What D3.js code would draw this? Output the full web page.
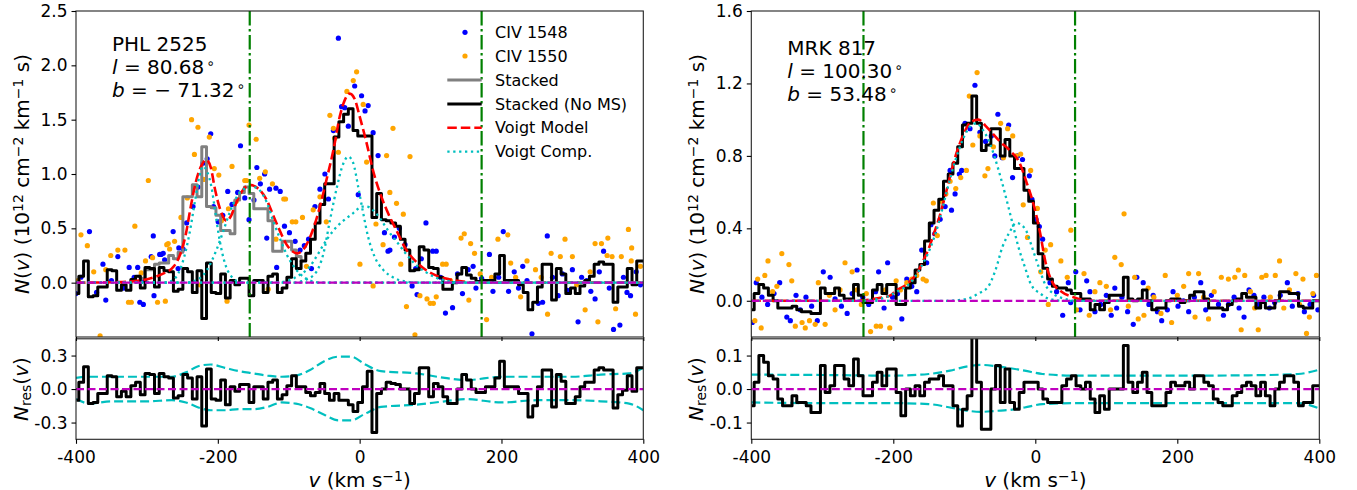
<!DOCTYPE html>
<html><head><meta charset="utf-8">
<script src="https://cdn.jsdelivr.net/npm/d3@7"></script>
<style>body{margin:0;background:#fff} text{font-family:"DejaVu Sans",sans-serif}</style>
</head><body><svg id="c" width="1357" height="490"></svg>
<script>
// ---------- shared grid / ticks ----------
const BIN_CENTER_START = -399.3, BIN_WIDTH = 6.667;
const velocityTicks = [-400, -200, 0, 200, 400];
const leftMainTicks = [0, 0.5, 1.0, 1.5, 2.0, 2.5];
const leftResTicks = [-0.3, 0, 0.3];
const rightMainTicks = [0, 0.4, 0.8, 1.2, 1.6];
const rightResTicks = [-0.1, 0, 0.1];
const legendLabels = ["CIV 1548", "CIV 1550", "Stacked", "Stacked (No MS)", "Voigt Model", "Voigt Comp."];

// ---------- LEFT: PHL 2525 ----------
const leftName = "PHL 2525", leftL = "80.68", leftB = "71.32", leftBNeg = true;
const leftVlines = [-155, 172];
const leftStackedNoMS = [-0.10,0.06,0.20,-0.13,-0.12,-0.04,-0.04,0.12,0.11,-0.07,-0.02,-0.07,0.03,0.06,-0.05,0.14,0.13,-0.04,0.14,0.11,0.10,-0.08,-0.06,0.13,
 0.10,-0.09,0.11,-0.33,0.18,-0.09,-0.10,0.08,-0.14,0.02,-0.02,0.04,0.04,-0.12,0.02,0.02,-0.09,0.06,0.08,-0.09,-0.05,0.05,0.22,0.13,
 0.20,0.27,0.40,0.55,0.72,0.91,0.91,1.34,1.48,1.55,1.60,1.40,1.35,1.35,1.35,0.60,0.82,0.58,0.57,0.55,0.52,0.40,0.30,0.11,0.12,0.33,0.30,0.14,0.13,0.05,-0.06,-0.06,
 0.00,0.08,0.14,0.07,0.04,0.01,0.02,0.02,0.02,0.08,0.25,0.02,0.02,0.02,-0.02,-0.09,-0.25,-0.18,-0.04,0.17,0.17,-0.16,0.13,0.08,-0.10,-0.05,-0.10,-0.03,0.02,0.06,0.17,0.19,0.17,0.17,-0.18,-0.04,-0.04,0.13,-0.02,0.20,0.20];
const leftStackedFirstBin = 13;
const leftStacked = [0.06,0.04,0.12,0.12,0.17,0.18,0.18,0.25,0.22,0.28,0.79,0.79,0.90,0.79,1.25,0.70,0.69,0.62,0.48,0.48,0.45,0.76,0.83,0.88,0.82,0.68,0.68,0.68,0.57,0.29,0.29,0.38,0.38,0.30,0.24,0.20];
const leftResidual = [-0.10,0.06,0.20,-0.13,-0.12,-0.04,-0.04,0.12,0.11,-0.07,-0.02,-0.07,0.03,0.06,-0.05,0.14,0.13,-0.04,0.14,0.11,0.10,-0.08,-0.06,0.13,
 0.10,-0.09,0.11,-0.33,0.18,-0.09,-0.10,0.08,-0.14,0.02,-0.02,0.04,0.04,-0.12,0.02,0.02,-0.09,0.06,0.08,-0.09,-0.05,
 0.03,0.12,0.02,0.02,-0.03,-0.06,-0.03,0.05,-0.04,-0.10,-0.04,-0.10,-0.10,-0.14,-0.20,-0.12,0.02,0.16,-0.39,-0.04,
 0.00,0.06,0.05,0.04,0.00,0.00,-0.13,-0.04,0.19,0.19,-0.07,0.05,0.02,-0.07,-0.13,-0.13,0.00,0.13,0.08,0.00,
 -0.03,-0.03,0.02,0.02,0.10,0.25,0.02,0.02,0.02,-0.04,-0.04,-0.25,-0.15,0.02,0.17,0.17,-0.16,0.13,0.07,-0.13,
 -0.13,-0.07,0.02,0.06,0.06,0.17,0.19,0.17,0.17,-0.17,-0.05,-0.01,0.12,-0.02,0.19,0.19];
const leftCIV1548 = [[-400,-0.10],[-393,0.05],[-381,0.47],[-371,-0.09],[-362,0.17],[-358,-0.16],[-350,0.02],[-341,0.24],[-333,-0.05],[-325,0.14],[-318,0.05],[-313,0.14],[-310,-0.18],[-305,-0.20],[-303,0.02],[-294,0.24],[-291,0.43],[-290,-0.12],[-282,0.26],[-280,0.26],[-277,0.27],[-275,0.21],[-263,0.47],[-256,0.13],[-255,0.32],[-249,0.31],[-244,0.55],[-235,0.70],[-228,0.88],[-221,1.10],[-215,1.14],[-210,1.37],[-206,0.70],[-199.5,0.56],[-193,0.62],[-186,0.84],[-180,0.72],[-172,0.83],[-168,1.26],[-162,0.78],[-156,0.58],[-149,0.76],[-145,1.06],[-140,0.91],[-134,1.00],[-131,0.41],[-127,0.86],[-118,0.87],[-117,0.14],[-112,0.84],[-106,0.52],[-99,0.46],[-91,0.38],[-84,0.30],[-78,0.34],[-72,0.40],[-68,0.13],[-63,0.70],[-56,0.86],[-49,1.00],[-44,0.77],[-37,1.40],[-30,2.25],[-25.5,1.62],[-21,1.61],[-16,1.44],[-7,1.81],[-2,0.81],[2.7,1.72],[7.6,1.58],[12,1.63],[19,1.38],[26,1.17],[35,0.46],[40,0.29],[42.7,0.30],[49,0.42],[56,0.50],[64,0.35],[74,-0.03],[79,0.13],[81,-0.11],[87,0.22],[93.5,0.55],[103,0.29],[108,0.29],[114,0.05],[121,-0.28],[131,-0.23],[138,0.08],[145,-0.10],[153,0.12],[160,0.15],[164,-0.05],[172,0.04],[183,0.26],[188,-0.08],[196,0.05],[202.5,0.47],[210,-0.08],[218,0.10],[224,-0.05],[230,0.15],[236,0.02],[243,-0.47],[252,-0.19],[258,-0.18],[264.6,0.43],[272,0.05],[280,-0.12],[286,0.08],[293,-0.07],[300,0.12],[308,-0.36],[313,0.05],[320,0.02],[326,-0.08],[332,-0.15],[338,0.10],[344,0.29],[352,-0.05],[358,-0.43],[367,-0.39],[372,0.05],[377,-0.09],[382,-0.12],[390,0.10],[396,-0.02]];
const leftCIV1550 = [[-397,0.02],[-393,0.44],[-384,0.34],[-375,0.10],[-366,-0.49],[-358,0.12],[-351,0.25],[-341,0.30],[-331,0.30],[-326,-0.18],[-322,-0.18],[-317,0.52],[-308,0.09],[-302,0.20],[-298,0.94],[-292,0.23],[-285,-0.18],[-274,-0.17],[-272,0.35],[-270,0.36],[-268,0.31],[-261,0.38],[-252,0.60],[-243,0.78],[-237,1.50],[-233,1.18],[-228,1.43],[-225,-0.02],[-220,0.95],[-212,1.34],[-205,1.05],[-198.6,0.99],[-195,0.57],[-187,-0.17],[-185,0.68],[-180,1.07],[-174,0.75],[-162,0.94],[-159.5,0.94],[-156,1.45],[-146,1.32],[-141,0.96],[-133,1.02],[-129,-0.06],[-123,0.91],[-118,0.40],[-107,0.77],[-104.5,0.77],[-95,0.56],[-90,0.56],[-80.6,0.60],[-75,0.15],[-65.5,0.67],[-56,0.79],[-47,0.56],[-42,1.54],[-37,1.42],[-35,1.33],[-30,1.20],[-18,1.76],[-9,1.86],[-4.3,1.94],[0.4,0.17],[5,1.64],[9.8,1.11],[19,-0.03],[23,0.54],[33,0.35],[38,1.17],[42.6,0.83],[47,1.42],[52,0.73],[58,0.17],[61.6,0.63],[66,-0.22],[71,1.16],[78,-0.48],[85,-0.12],[95,-0.15],[99.5,-0.19],[104,-0.19],[108,-0.13],[117,0.17],[122,0.17],[128,0.02],[143,0.41],[147.5,0.45],[154,-0.16],[156.5,0.36],[162,0.27],[170,0.08],[179,-0.34],[186,0.05],[195,0.40],[209,0.44],[213,0.18],[220,0.05],[227,-0.13],[236,0.20],[248,0.12],[256,0.05],[265,-0.29],[270,0.27],[283,0.24],[289.6,0.40],[300,0.24],[306,-0.02],[318,-0.25],[325,0.10],[332,0.36],[336,-0.36],[341,0.36],[349,0.25],[350,0.41],[356,0.24],[361,-0.24],[369,0.24],[379,0.49],[383,0.20],[383.6,0.32],[389,-0.29],[396,0.15]];
const leftModel = [[-400,0],[-340,0.005],[-310,0.02],[-290,0.05],[-275,0.09],[-262,0.15],[-252,0.28],[-245,0.45],[-239,0.67],[-232,0.90],[-223,1.08],[-216,1.13],[-210,1.06],[-204,0.86],[-197,0.68],[-188,0.57],[-181,0.62],[-175,0.72],[-166,0.84],[-155,0.90],[-144,0.87],[-131,0.76],[-122,0.62],[-112,0.47],[-103,0.35],[-95,0.29],[-88,0.27],[-80,0.30],[-68,0.45],[-56,0.70],[-47,0.94],[-37,1.22],[-28,1.53],[-21,1.68],[-14,1.74],[-7,1.69],[0,1.53],[10,1.28],[19,1.03],[29,0.82],[38,0.67],[52,0.48],[66,0.30],[80,0.19],[95,0.11],[110,0.06],[127,0.03],[146,0.01],[170,0],[400,0]];
const leftCompA = [[-400,0],[-275,0],[-262,0.03],[-250,0.18],[-240,0.45],[-232,0.76],[-226,0.98],[-221,1.07],[-215,1.02],[-209,0.88],[-204,0.67],[-199,0.45],[-194,0.28],[-188,0.14],[-180,0.05],[-170,0.01],[-155,0],[400,0]];
const leftCompB = [[-400,0],[-245,0],[-228,0.03],[-215,0.12],[-202,0.30],[-192,0.48],[-183,0.65],[-174,0.78],[-160,0.87],[-150,0.88],[-141,0.85],[-131,0.74],[-122,0.57],[-112,0.40],[-103,0.26],[-95,0.17],[-84,0.08],[-70,0.02],[-55,0],[400,0]];
const leftCompC = [[-400,0],[-95,0],[-75,0.03],[-61,0.10],[-51,0.27],[-42,0.57],[-32,0.88],[-25,1.06],[-16,1.16],[-9,1.10],[-2,0.88],[5,0.64],[12,0.42],[21,0.24],[33,0.12],[47,0.05],[65,0.01],[85,0],[400,0]];
const leftCompD = [[-400,0],[-120,0],[-100,0.02],[-85,0.07],[-70,0.15],[-60,0.25],[-50,0.36],[-37,0.48],[-23,0.57],[-9,0.64],[3,0.70],[10,0.70],[20,0.66],[30,0.58],[40,0.48],[52,0.38],[66,0.26],[80,0.16],[95,0.09],[110,0.04],[130,0.01],[150,0],[400,0]];
const leftErrBand = [[-400,0.10,-0.09],[-380,0.11,-0.13],[-350,0.11,-0.11],[-300,0.11,-0.11],[-265,0.11,-0.10],[-245,0.15,-0.12],[-225,0.21,-0.17],[-210,0.22,-0.19],[-190,0.19,-0.19],[-170,0.16,-0.18],[-150,0.14,-0.18],[-130,0.12,-0.16],[-110,0.11,-0.12],[-90,0.12,-0.13],[-70,0.17,-0.17],[-50,0.25,-0.23],[-30,0.29,-0.28],[-12,0.29,-0.28],[8,0.22,-0.22],[30,0.16,-0.16],[80,0.14,-0.14],[120,0.10,-0.11],[150,0.08,-0.09],[200,0.11,-0.12],[250,0.11,-0.10],[300,0.11,-0.10],[340,0.13,-0.11],[380,0.14,-0.13],[400,0.19,-0.19]];

// ---------- RIGHT: MRK 817 ----------
const rightName = "MRK 817", rightL = "100.30", rightB = "53.48", rightBNeg = false;
const rightVlines = [-242, 56];
const rightStackedNoMS = [-0.05,0.04,0.09,0.07,0.03,0.00,-0.04,-0.04,-0.04,-0.03,-0.05,-0.06,-0.06,-0.07,-0.07,0.07,0.04,0.04,0.07,0.03,0.01,0.01,0.09,0.03,-0.01,-0.01,0.06,0.09,0.04,0.09,0.09,-0.02,-0.02,0.07,0.10,0.17,0.20,
 0.33,0.43,0.50,0.56,0.66,0.70,0.76,0.85,0.97,0.98,1.13,0.98,0.83,0.86,0.95,0.95,0.80,0.89,0.80,0.73,0.73,0.61,0.55,0.43,0.26,0.18,0.12,0.08,0.07,0.07,0.06,0.04,0.04,0.01,0.01,-0.05,-0.02,-0.05,
 -0.01,0.03,0.03,0.03,0.13,0.01,0.00,0.01,0.06,0.00,-0.05,-0.04,-0.04,0.00,0.01,0.01,-0.01,0.00,0.03,0.05,0.05,0.01,-0.04,-0.04,-0.04,-0.05,-0.02,0.00,0.01,0.04,0.02,0.02,-0.04,-0.01,-0.04,-0.04,0.00,0.05,0.05,0.04,0.04,-0.03,-0.04,-0.04,0.00,0.00];
const rightResidual = [-0.05,0.02,0.10,0.08,0.04,0.03,-0.03,-0.05,-0.05,-0.02,-0.04,-0.04,-0.05,-0.07,-0.07,0.07,-0.01,0.01,0.07,0.07,
 0.03,0.01,0.09,0.04,-0.02,-0.02,0.02,0.05,0.01,0.06,0.06,-0.01,-0.08,0.00,-0.02,0.01,-0.02,0.02,0.03,0.03,
 0.04,0.01,0.01,-0.05,-0.11,-0.06,-0.02,0.16,0.02,-0.12,-0.12,0.00,0.07,-0.04,0.06,-0.04,-0.06,-0.01,0.02,0.02,
 0.02,0.00,-0.03,-0.04,-0.04,-0.04,0.01,0.03,0.04,0.01,0.00,0.02,-0.03,-0.07,-0.02,-0.06,0.00,0.00,0.00,0.13,
 0.02,-0.01,0.02,0.05,-0.01,-0.05,-0.05,-0.05,-0.01,0.02,0.01,0.01,0.02,0.00,0.04,0.04,0.02,0.01,-0.03,-0.04,
 -0.05,-0.05,-0.02,-0.01,0.01,0.02,0.01,-0.02,0.02,-0.02,-0.05,0.00,0.02,0.04,0.04,0.02,-0.05,-0.04,-0.04,0.01,0.01];
const rightCIV1548 = [[-398.6,-0.12],[-393,0.10],[-385,0.02],[-377,-0.02],[-368,0.04],[-360,0.10],[-350,-0.09],[-345,-0.11],[-337,0.03],[-331,-0.05],[-323,0.02],[-315,-0.03],[-307,-0.11],[-298.6,0.16],[-289,0.13],[-282,0.01],[-273,-0.03],[-265,-0.07],[-258,0.04],[-251,0.17],[-243,0.02],[-234.6,-0.02],[-225,0.05],[-220.7,0.16],[-213,-0.04],[-208,0.21],[-201,0.02],[-194,0.04],[-188,-0.10],[-181,0.12],[-174,0.08],[-167,0.05],[-160,0.28],[-153,0.21],[-147,0.42],[-141.6,0.37],[-134,0.45],[-127,0.52],[-120,0.72],[-118,0.50],[-113,0.59],[-107,0.70],[-103.7,0.72],[-99,0.98],[-92,0.95],[-85,1.19],[-78,0.93],[-70,0.88],[-62,0.91],[-57,0.80],[-52.7,1.03],[-46.5,0.79],[-37.5,0.97],[-32,0.68],[-25,0.80],[-18,0.78],[-8.4,0.69],[-4.7,0.56],[1,0.45],[5.7,0.41],[10.3,0.34],[20.7,0.10],[30,0.05],[38.6,-0.08],[46.5,0.10],[49.8,-0.01],[57,0.16],[63,-0.05],[72.4,0.11],[77,0.05],[84,-0.06],[92,-0.02],[100,0.03],[107,-0.08],[112,0.07],[114.6,-0.04],[122,0.02],[130,-0.06],[138,-0.13],[143,0.13],[152,0.10],[160,-0.02],[166,0.03],[172,-0.06],[178,-0.11],[186,-0.05],[194,0.05],[201,-0.03],[208.6,0.0],[216,-0.06],[224,0.02],[233,0.10],[240,-0.05],[248,0.03],[258,-0.02],[265,-0.08],[272,-0.02],[280,0.02],[287,-0.04],[294,-0.09],[301,0.06],[308,0.03],[315,-0.02],[322,0.02],[330,-0.04],[337,-0.01],[345,0.03],[355,0.10],[362,-0.03],[370,0.04],[379,-0.06],[387,-0.02],[392,0.03],[398,-0.05]];
const rightCIV1550 = [[-395,-0.11],[-391,0.12],[-386,-0.15],[-381,0.14],[-376.5,0.22],[-370,0.05],[-364,0.08],[-357,0.26],[-347,0.20],[-343,0.11],[-338,-0.14],[-328.5,-0.12],[-324,-0.15],[-318,-0.11],[-310,-0.13],[-305.6,0.10],[-296,-0.13],[-290,0.03],[-282,-0.05],[-275,0.06],[-268,0.21],[-258,0.16],[-251,0.06],[-245,-0.02],[-238,0.04],[-232,-0.17],[-224,-0.14],[-218,-0.14],[-211,0.06],[-205,-0.15],[-196,0.11],[-190,0.06],[-181,0.10],[-174,0.12],[-167,0.14],[-158,0.12],[-153.5,0.11],[-143.6,0.54],[-138,0.36],[-133,0.55],[-126,0.59],[-120,0.66],[-112,0.62],[-105,0.68],[-97,0.72],[-93,1.13],[-88,0.86],[-82,1.26],[-78,0.91],[-71,0.69],[-66.7,0.73],[-59,0.85],[-48.8,0.98],[-45,0.79],[-39,0.95],[-31.8,0.91],[-27,0.80],[-20.6,0.81],[-17,0.53],[-11,0.35],[-6.5,0.72],[2.9,0.51],[7.6,0.16],[14,0.28],[18.3,-0.02],[21.6,0.31],[36,0.22],[45,0.13],[50,0.39],[58,-0.05],[68.6,0.15],[76,-0.08],[84,0.05],[91,0.10],[100,0.08],[106,-0.05],[112,0.24],[121,0.20],[125,0.48],[131,-0.03],[140,0.13],[145,-0.10],[153,-0.08],[159,0.07],[167,0.02],[177,-0.07],[183,0.14],[192,-0.12],[200,0.03],[209,0.08],[216,0.15],[225,-0.09],[230,0.15],[237,0.02],[244,-0.10],[252,0.05],[262,0.13],[272,0.12],[281,0.13],[286,0.17],[290,-0.16],[295,0.14],[303,0.05],[309,-0.04],[314,-0.16],[319,0.13],[325,0.14],[331,0.02],[338,0.14],[344,0.22],[350,-0.04],[358,0.06],[367,0.15],[372,-0.02],[377,0.12],[382,-0.18],[386,-0.09],[391,0.04],[396,0.14]];
const rightModel = [[-400,0],[-260,0.0],[-220,0.015],[-204,0.03],[-195,0.06],[-185,0.08],[-176,0.11],[-167,0.15],[-158,0.22],[-149,0.30],[-142,0.38],[-136,0.45],[-125,0.61],[-113,0.79],[-101,0.92],[-90,0.99],[-80,1.0],[-71,0.97],[-64,0.94],[-50,0.88],[-36,0.83],[-22,0.76],[-12,0.65],[-3,0.54],[7,0.37],[14,0.22],[23,0.11],[37,0.05],[54,0.02],[77,0.0],[400,0]];
const rightCompA = [[-400,0],[-260,0],[-220,0.01],[-195,0.05],[-176,0.10],[-162,0.18],[-148,0.29],[-136,0.43],[-125,0.60],[-113,0.77],[-101,0.90],[-90,0.97],[-82,0.98],[-75,0.95],[-64,0.87],[-57,0.79],[-48,0.67],[-38,0.52],[-31,0.41],[-24,0.30],[-15,0.19],[-6,0.09],[7,0.04],[20,0.01],[40,0],[400,0]];
const rightCompB = [[-400,0],[-125,0],[-97,0.01],[-80,0.04],[-66,0.08],[-56,0.17],[-46,0.30],[-36,0.38],[-27,0.43],[-20,0.42],[-12,0.38],[-5,0.30],[4.5,0.19],[14,0.09],[25,0.04],[42,0.01],[60,0],[400,0]];
const rightErrBand = [[-400,0.043,-0.040],[-300,0.042,-0.042],[-200,0.040,-0.042],[-150,0.045,-0.045],[-120,0.055,-0.055],[-95,0.068,-0.065],[-75,0.072,-0.068],[-55,0.068,-0.065],[-35,0.062,-0.062],[-15,0.055,-0.055],[10,0.045,-0.045],[60,0.040,-0.042],[200,0.040,-0.042],[300,0.041,-0.042],[370,0.045,-0.042],[400,0.058,-0.058]];

// ---------- drawing ----------
const COL = {blue:"#0000ff", orange:"#ffa500", gray:"#808080", black:"#000000", red:"#ff0000", cyan:"#00bfbf", mag:"#bf00bf", green:"#008000"};
const svg = d3.select("#c");
const MAIN_TOP = 11, MAIN_BOT = 337, RES_TOP = 338.8, RES_BOT = 439.3;

function stepPoints(values, first) { return values.map((v, i) => [BIN_CENTER_START + (first + i) * BIN_WIDTH, v]); }

function addMathLabel(g, parts, size) {
  parts.forEach(([t, s]) => {
    const ts = g.append("tspan").text(t);
    if (s === "i") ts.attr("font-style", "italic");
    if (s === "sup") ts.attr("font-size", size * 0.7).attr("baseline-shift", "40%");
    if (s === "deg") ts.attr("font-size", size * 0.7).attr("baseline-shift", "45%").attr("dx", 2);
    if (s === "sub") ts.attr("font-size", size * 0.7).attr("baseline-shift", "-22%");
  });
}

function drawPanel(p, id) {
  const x = d3.scaleLinear().domain([-400, 400]).range([p.x0, p.x1]);
  const y = d3.scaleLinear().domain(p.mainDomain).range([MAIN_BOT, MAIN_TOP]);
  const yr = d3.scaleLinear().domain(p.resDomain).range([RES_BOT, RES_TOP]);
  const defs = svg.append("defs");
  defs.append("clipPath").attr("id", "cm" + id).append("rect").attr("x", p.x0).attr("y", MAIN_TOP).attr("width", p.x1 - p.x0).attr("height", MAIN_BOT - MAIN_TOP);
  defs.append("clipPath").attr("id", "cr" + id).append("rect").attr("x", p.x0).attr("y", RES_TOP).attr("width", p.x1 - p.x0).attr("height", RES_BOT - RES_TOP);

  const gm = svg.append("g").attr("clip-path", `url(#cm${id})`);
  const lineXY = (sy, curve) => d3.line().x(d => x(d[0])).y(d => sy(d[1])).curve(curve);

  gm.selectAll(null).data(p.blue).join("circle").attr("cx", d => x(d[0])).attr("cy", d => y(d[1])).attr("r", 2.6).attr("fill", COL.blue);
  gm.selectAll(null).data(p.orange).join("circle").attr("cx", d => x(d[0])).attr("cy", d => y(d[1])).attr("r", 2.6).attr("fill", COL.orange);
  if (p.stacked) gm.append("path").attr("d", lineXY(y, d3.curveStep)(stepPoints(p.stacked, p.stackedFirst))).attr("fill", "none").attr("stroke", COL.gray).attr("stroke-width", 3).attr("stroke-linejoin", "round");
  gm.append("path").attr("d", lineXY(y, d3.curveStep)(stepPoints(p.noMS, 0))).attr("fill", "none").attr("stroke", COL.black).attr("stroke-width", 3).attr("stroke-linejoin", "round");
  gm.append("path").attr("d", lineXY(y, d3.curveMonotoneX)(p.model)).attr("fill", "none").attr("stroke", COL.red).attr("stroke-width", 2.6).attr("stroke-dasharray", "9.5,4");
  p.comps.forEach(c => gm.append("path").attr("d", lineXY(y, d3.curveMonotoneX)(c)).attr("fill", "none").attr("stroke", COL.cyan).attr("stroke-width", 2.3).attr("stroke-dasharray", "2.3,3.6"));
  gm.append("line").attr("x1", p.x0).attr("x2", p.x1).attr("y1", y(0)).attr("y2", y(0)).attr("stroke", COL.mag).attr("stroke-width", 2.2).attr("stroke-dasharray", "8,3.5");
  p.vlines.forEach(v => gm.append("line").attr("x1", x(v)).attr("x2", x(v)).attr("y1", MAIN_TOP).attr("y2", MAIN_BOT).attr("stroke", COL.green).attr("stroke-width", 2.2).attr("stroke-dasharray", "14.5,3.6,2.3,3.6"));

  const gr = svg.append("g").attr("clip-path", `url(#cr${id})`);
  gr.append("path").attr("d", lineXY(yr, d3.curveMonotoneX)(p.band.map(d => [d[0], d[1]]))).attr("fill", "none").attr("stroke", COL.cyan).attr("stroke-width", 2.2).attr("stroke-dasharray", "9,4");
  gr.append("path").attr("d", lineXY(yr, d3.curveMonotoneX)(p.band.map(d => [d[0], d[2]]))).attr("fill", "none").attr("stroke", COL.cyan).attr("stroke-width", 2.2).attr("stroke-dasharray", "9,4");
  gr.append("path").attr("d", lineXY(yr, d3.curveStep)(stepPoints(p.resid, 0))).attr("fill", "none").attr("stroke", COL.black).attr("stroke-width", 3).attr("stroke-linejoin", "round");
  gr.append("line").attr("x1", p.x0).attr("x2", p.x1).attr("y1", yr(0)).attr("y2", yr(0)).attr("stroke", COL.mag).attr("stroke-width", 2.2).attr("stroke-dasharray", "8,3.5");

  [[MAIN_TOP, MAIN_BOT], [RES_TOP, RES_BOT]].forEach(([t, b]) =>
    svg.append("rect").attr("x", p.x0).attr("y", t).attr("width", p.x1 - p.x0).attr("height", b - t).attr("fill", "none").attr("stroke", "#222").attr("stroke-width", 1.1));

  const styleAxis = (g, fs) => { g.select(".domain").remove(); g.selectAll("line").attr("stroke", "#000").attr("stroke-width", 1.1); g.selectAll("text").attr("font-size", fs).attr("fill", "#000").attr("font-family", "DejaVu Sans"); g.attr("font-family", null).attr("font-size", null); };
  const fmt1 = d => d.toFixed(1);
  svg.append("g").attr("transform", `translate(${p.x0},0)`).call(d3.axisLeft(y).tickValues(p.mainTicks).tickFormat(fmt1).tickSize(4.5).tickPadding(4)).call(g => styleAxis(g, 17));
  svg.append("g").attr("transform", `translate(${p.x0},0)`).call(d3.axisLeft(yr).tickValues(p.resTicks).tickFormat(fmt1).tickSize(4.5).tickPadding(4)).call(g => styleAxis(g, 17));
  svg.append("g").attr("transform", `translate(0,${MAIN_BOT})`).call(d3.axisBottom(x).tickValues(velocityTicks).tickFormat("").tickSize(4)).call(g => styleAxis(g, 17));
  svg.append("g").attr("transform", `translate(0,${RES_BOT})`).call(d3.axisBottom(x).tickValues(velocityTicks).tickFormat(d => String(d)).tickSize(4.5).tickPadding(7)).call(g => styleAxis(g, 17));

  const lx = p.x0 - 47;
  const yl = svg.append("text").attr("transform", `translate(${lx},${(MAIN_TOP + MAIN_BOT) / 2}) rotate(-90)`).attr("text-anchor", "middle").attr("font-size", 20);
  addMathLabel(yl, [["N", "i"], ["(", ""], ["v", "i"], [") (10", ""], ["12", "sup"], [" cm", ""], ["−2", "sup"], [" km", ""], ["−1", "sup"], [" s)", ""]], 20);
  const rl = svg.append("text").attr("transform", `translate(${lx - 1},${(RES_TOP + RES_BOT) / 2}) rotate(-90)`).attr("text-anchor", "middle").attr("font-size", 20);
  addMathLabel(rl, [["N", "i"], ["res", "sub"], ["(", ""], ["v", "i"], [")", ""]], 20);
  const xl = svg.append("text").attr("x", (p.x0 + p.x1) / 2).attr("y", 486.5).attr("text-anchor", "middle").attr("font-size", 20);
  addMathLabel(xl, [["v", "i"], [" (km s", ""], ["−1", "sup"], [")", ""]], 20);

  const ax = p.x0 + 36;
  svg.append("text").attr("x", ax).attr("y", p.annY[0]).attr("font-size", 20).text(p.name);
  const t2 = svg.append("text").attr("x", ax).attr("y", p.annY[1]).attr("font-size", 20);
  addMathLabel(t2, [["l", "i"], [" = " + p.l, ""], ["∘", "deg"]], 20);
  const t3 = svg.append("text").attr("x", ax).attr("y", p.annY[2]).attr("font-size", 20);
  addMathLabel(t3, [["b", "i"], [" = " + (p.bNeg ? "− " : "") + p.b, ""], ["∘", "deg"]], 20);
}

drawPanel({x0: 76, x1: 643.3, mainDomain: [-0.5, 2.5], resDomain: [-0.45, 0.45], mainTicks: leftMainTicks, resTicks: leftResTicks,
  blue: leftCIV1548, orange: leftCIV1550, stacked: leftStacked, stackedFirst: leftStackedFirstBin, noMS: leftStackedNoMS,
  model: leftModel, comps: [leftCompA, leftCompB, leftCompC, leftCompD], vlines: leftVlines, band: leftErrBand, resid: leftResidual,
  name: leftName, l: leftL, b: leftB, bNeg: leftBNeg, annY: [51, 73.5, 96.5]}, "L");
drawPanel({x0: 751.3, x1: 1319.3, mainDomain: [-0.2, 1.6], resDomain: [-0.15, 0.15], mainTicks: rightMainTicks, resTicks: rightResTicks,
  blue: rightCIV1548, orange: rightCIV1550, stacked: null, stackedFirst: 0, noMS: rightStackedNoMS,
  model: rightModel, comps: [rightCompA, rightCompB], vlines: rightVlines, band: rightErrBand, resid: rightResidual,
  name: rightName, l: rightL, b: rightB, bNeg: rightBNeg, annY: [55, 78.3, 100.7]}, "R");

// legend (left panel)
const lg = svg.append("g");
const rowY = [32.3, 56, 80, 104, 127.7, 151.7];
const hx0 = 447.3, hx1 = 481.7, tx = 495;
lg.append("circle").attr("cx", 465).attr("cy", rowY[0]).attr("r", 2.6).attr("fill", COL.blue);
lg.append("circle").attr("cx", 465).attr("cy", rowY[1]).attr("r", 2.6).attr("fill", COL.orange);
lg.append("line").attr("x1", hx0).attr("x2", hx1).attr("y1", rowY[2]).attr("y2", rowY[2]).attr("stroke", COL.gray).attr("stroke-width", 3);
lg.append("line").attr("x1", hx0).attr("x2", hx1).attr("y1", rowY[3]).attr("y2", rowY[3]).attr("stroke", COL.black).attr("stroke-width", 3);
lg.append("line").attr("x1", hx0).attr("x2", hx1).attr("y1", rowY[4]).attr("y2", rowY[4]).attr("stroke", COL.red).attr("stroke-width", 2.6).attr("stroke-dasharray", "9.5,4");
lg.append("line").attr("x1", hx0).attr("x2", hx1).attr("y1", rowY[5]).attr("y2", rowY[5]).attr("stroke", COL.cyan).attr("stroke-width", 2.3).attr("stroke-dasharray", "2.3,3.6");
legendLabels.forEach((t, i) => lg.append("text").attr("x", tx).attr("y", rowY[i]).attr("dy", "0.36em").attr("font-size", 16).text(t));
</script></body></html>
